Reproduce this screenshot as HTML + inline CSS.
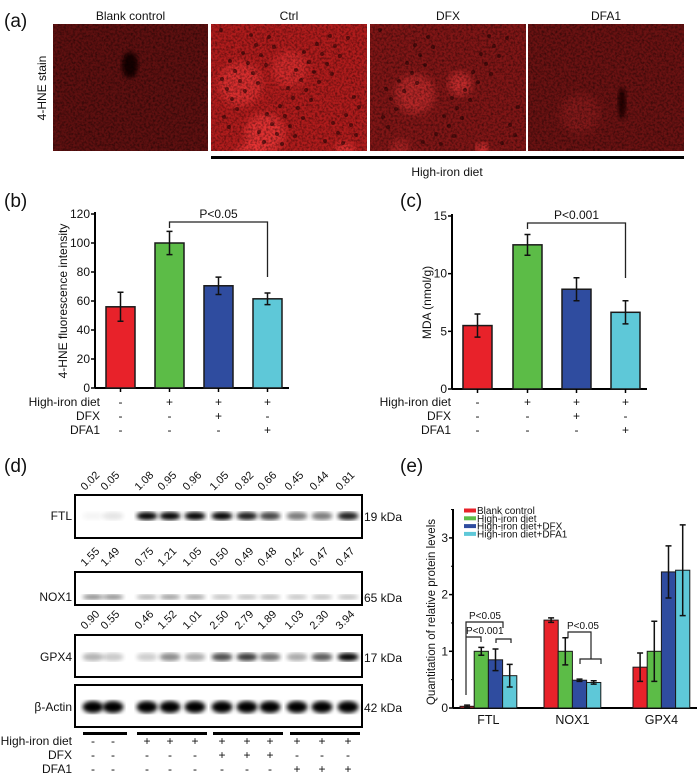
<!DOCTYPE html>
<html><head><meta charset="utf-8">
<style>
html,body{margin:0;padding:0;background:#fff;}
svg{display:block;font-family:"Liberation Sans",Arial,sans-serif;}
</style></head>
<body>
<svg id="fig" width="700" height="776" viewBox="0 0 700 776" xmlns="http://www.w3.org/2000/svg">
<defs>
<filter id="tex" x="0" y="0" width="100%" height="100%">
<feTurbulence type="fractalNoise" baseFrequency="0.45" numOctaves="2" seed="3" result="n"/>
<feColorMatrix in="n" type="matrix" values="0 0 0 0 0  0 0 0 0 0  0 0 0 0 0  0 0 0 -1.6 1.0" result="a"/>
<feComposite in="a" in2="SourceGraphic" operator="in"/>
</filter>
<filter id="blur1"><feGaussianBlur stdDeviation="2.2"/></filter>
<filter id="blur2"><feGaussianBlur stdDeviation="4"/></filter>
</defs>
<g id="panel-a"></g>
<g id="panel-b"></g>
<g id="panel-c"></g>
<g id="panel-d"></g>
<g id="panel-e"></g>
</svg>
<script>
// ---- data ----
const groups = ["Blank control","Ctrl","DFX","DFA1"];
const hneValues = [56, 100, 70.5, 61.5];
const hneErrors = [10, 8, 6, 4];
const hneTicks = [0,20,40,60,80,100,120];
const mdaValues = [5.5, 12.5, 8.65, 6.65];
const mdaErrors = [1.0, 0.9, 1.0, 1.0];
const mdaTicks = [0,5,10,15];
const treatHigh = ["-","+","+","+"];
const treatDFX = ["-","-","+","-"];
const treatDFA1 = ["-","-","-","+"];
const barColors = ["#e8222a","#5cbc47","#2f4c9f","#5ec8d8"];
const ftlNums = ["0.02","0.05","1.08","0.95","0.96","1.05","0.82","0.66","0.45","0.44","0.81"];
const nox1Nums = ["1.55","1.49","0.75","1.21","1.05","0.50","0.49","0.48","0.42","0.47","0.47"];
const gpx4Nums = ["0.90","0.55","0.46","1.52","1.01","2.50","2.79","1.89","1.03","2.30","3.94"];
const blotHigh = ["-","-","+","+","+","+","+","+","+","+","+"];
const blotDFX = ["-","-","-","-","-","+","+","+","-","-","-"];
const blotDFA1 = ["-","-","-","-","-","-","-","-","+","+","+"];
const proteins = ["FTL","NOX1","GPX4"];
const blankVals = [0.03, 1.55, 0.72];
const highVals = [1.0, 1.0, 1.0];
const dfxVals = [0.85, 0.49, 2.4];
const dfa1Vals = [0.57, 0.45, 2.43];
const blankErr = [0.02, 0.04, 0.25];
const highErr = [0.07, 0.24, 0.53];
const dfxErr = [0.19, 0.02, 0.46];
const dfa1Err = [0.2, 0.03, 0.8];
const eTicks = [0,1,2,3];
const legendLabels = ["Blank control","High-iron diet","High-iron diet+DFX","High-iron diet+DFA1"];

const NS="http://www.w3.org/2000/svg";
function mk(parent, tag, attrs, text){
  const e=document.createElementNS(NS,tag);
  for(const k in attrs) e.setAttribute(k,attrs[k]);
  if(text!==undefined) e.textContent=text;
  parent.appendChild(e); return e;
}
function txt(parent,x,y,s,size,anchor,name){
  const t=mk(parent,"text",{x:x,y:y,"font-size":size,"text-anchor":anchor||"start",fill:"#111"},s);
  
  
  return t;
}

// ---- panel a ----
(function(){
  const g=document.getElementById("panel-a");
  txt(g,4,27,"(a)",19,"start","panel-a-letter");
  const imgs=[{x:53,w:155,base:"#5e1010",hi:[]},
              {x:211,w:156,base:"#b01c1c",hi:[[240,60,22,0.5],[265,110,20,0.6],[250,135,16,0.6],[345,128,10,0.6],[290,45,18,0.4]]},
              {x:370,w:156,base:"#801616",hi:[[415,70,20,0.4],[460,60,12,0.5],[482,125,6,0.8],[400,125,10,0.3]]},
              {x:528,w:156,base:"#6a1212",hi:[[580,90,20,0.15]]}];
  const titles=["Blank control","Ctrl","DFX","DFA1"];
  imgs.forEach((m,i)=>{
    const ig=mk(g,"g",{});
    
    
    mk(ig,"rect",{x:m.x,y:24,width:m.w,height:127,fill:m.base});
    const cl=mk(ig,"clipPath",{id:"cl"+i}); mk(cl,"rect",{x:m.x,y:24,width:m.w,height:127});
    const hg=mk(ig,"g",{"clip-path":"url(#cl"+i+")"});
    m.hi.forEach(h=>mk(hg,"circle",{cx:h[0],cy:h[1]+24,r:h[2],fill:"#ff4040",opacity:h[3],filter:"url(#blur2)"}));
    if(i===1||i===2){
      for(let k=0;k<(i===1?60:40);k++){
        const px=m.x+10+((k*37)%140), py=30+((k*53)%115);
        mk(hg,"circle",{cx:px,cy:py,r:2,fill:"#2a0505",opacity:0.6});
      }
    }
    if(i===0) mk(hg,"ellipse",{cx:130,cy:65,rx:8,ry:13,fill:"#150303",filter:"url(#blur1)"});
    if(i===3) mk(hg,"ellipse",{cx:622,cy:103,rx:4,ry:16,fill:"#200404",filter:"url(#blur1)"});
    mk(hg,"rect",{x:m.x,y:24,width:m.w,height:127,fill:"#000",filter:"url(#tex)",opacity:0.6});
    txt(g,m.x+m.w/2,20,titles[i],12,"middle","micrograph-title");
  });
  const r=txt(g,0,0,"4-HNE stain",12,"middle","y-axis-title-stain");
  r.setAttribute("transform","translate(46,88) rotate(-90)");
  mk(g,"rect",{x:211,y:156,width:473,height:3,fill:"#000"});
  txt(g,447,176,"High-iron diet",12,"middle","high-iron-diet-label");
})();

// ---- bar chart helper ----
function barChart(gid, letter, vals, errs, ticks, ymax, opt){
  const g=document.getElementById(gid);
  const y=v=>opt.y0-(v/ymax)*(opt.y0-opt.yTop);
  txt(g,opt.letterX,207,letter,19,"start","panel-letter");
  mk(g,"line",{x1:opt.ax,y1:opt.yTop-2,x2:opt.ax,y2:opt.y0,stroke:"#000","stroke-width":2});
  mk(g,"line",{x1:opt.ax,y1:opt.y0,x2:opt.axEnd,y2:opt.y0,stroke:"#000","stroke-width":2});
  ticks.forEach(t=>{
    mk(g,"line",{x1:opt.ax-4,y1:y(t),x2:opt.ax,y2:y(t),stroke:"#000","stroke-width":1.5});
    txt(g,opt.ax-5,y(t)+4,String(t),12,"end","y-tick-label");
  });
  const yt=txt(g,0,0,opt.ytitle,12,"middle","y-axis-title");
  yt.setAttribute("transform","translate("+opt.ytx+","+((opt.y0+opt.yTop)/2)+") rotate(-90)");
  const cx=[];
  vals.forEach((v,i)=>{
    const x=opt.barX[i], w=29; cx.push(x+w/2);
    const b=mk(g,"rect",{x:x,y:y(v),width:w,height:opt.y0-y(v),fill:barColors[i],stroke:"#1a1a1a","stroke-width":1.5});
    
    
    const c=x+w/2, e=errs[i];
    const eg=mk(g,"path",{d:"M"+c+","+y(v+e)+"V"+y(v-e)+"M"+(c-3)+","+y(v+e)+"H"+(c+3)+"M"+(c-3)+","+y(v-e)+"H"+(c+3),stroke:"#111","stroke-width":1.5,fill:"none"});
    
    
    mk(g,"line",{x1:c,y1:opt.y0,x2:c,y2:opt.y0+4,stroke:"#000","stroke-width":1.5});
  });
  const by=opt.bracketY;
  const br=mk(g,"path",{d:"M"+cx[1]+","+(by+6)+"V"+by+"H"+cx[3]+"V"+opt.bracketEnd,stroke:"#222","stroke-width":1.3,fill:"none"});
  
  
  txt(g,(cx[1]+cx[3])/2,by-4,opt.ptext,12,"middle","p-value-label");
  const rows=[["High-iron diet",treatHigh],["DFX",treatDFX],["DFA1",treatDFA1]];
  rows.forEach((r,ri)=>{
    const yy=406+ri*14;
    txt(g,opt.labelEnd,yy,r[0],12,"end","treatment-row-label");
    r[1].forEach((s,i)=>txt(g,cx[i],yy,s,12,"middle","treatment-sign"));
  });
}
barChart("panel-b","(b)",hneValues,hneErrors,hneTicks,120,
  {y0:388,yTop:214,ax:95,axEnd:289,barX:[106,155,204,253],ytitle:"4-HNE fluorescence intensity",ytx:67,
   bracketY:222,bracketEnd:277,ptext:"P<0.05",labelEnd:100,letterX:4});
barChart("panel-c","(c)",mdaValues,mdaErrors,mdaTicks,15,
  {y0:389,yTop:216,ax:452,axEnd:647,barX:[463,513,562,611],ytitle:"MDA (nmol/g)",ytx:431,
   bracketY:223,bracketEnd:278,ptext:"P<0.001",labelEnd:451,letterX:400});

// ---- panel d ----
(function(){
  const g=document.getElementById("panel-d");
  txt(g,4,472,"(d)",19,"start","panel-letter");
  const lanes=[93,113,147,170,195,222,247,270,297,322,348];
  const boxes=[{name:"FTL",y:495,h:43,nums:ftlNums,by:516,kda:"19 kDa",scale:1.0,ny:491},
               {name:"NOX1",y:572,h:33,nums:nox1Nums,by:597,kda:"65 kDa",scale:0.22,ny:567},
               {name:"GPX4",y:635,h:42,nums:gpx4Nums,by:657,kda:"17 kDa",scale:0.25,ny:630},
               {name:"β-Actin",y:685,h:42,nums:null,by:707,kda:"42 kDa",scale:0,ny:0}];
  boxes.forEach(b=>{
    const bg=mk(g,"g",{});
    
    
    mk(bg,"rect",{x:75,y:b.y,width:287,height:b.h,fill:"#fff",stroke:"#000","stroke-width":2});
    lanes.forEach((lx,i)=>{
      let op;
      if(b.nums){ const v=parseFloat(b.nums[i]); op=Math.min(1,v*b.scale+ (b.name==="NOX1"?0.15:0.08)); if(b.name==="FTL"&&v<0.1) op=v*2; }
      else op=1;
      const band=mk(bg,"ellipse",{cx:lx,cy:b.by,rx:10.5,ry:b.name==="β-Actin"?6:(b.name==="NOX1"?2.5:4),fill:"#000",opacity:op,filter:"url(#blur1)"});
      
      
      if(b.nums){
        const wrap=mk(g,"g",{transform:"translate("+(lx-8)+","+b.ny+") rotate(-45)"});
        const t=mk(wrap,"text",{x:0,y:0,"font-size":11,fill:"#111"},b.nums[i]);
        
        
      }
    });
    txt(g,72,b.by+4,b.name,12,"end","blot-row-label");
    txt(g,364,b.by+5,b.kda,12,"start","molecular-weight-label");
  });
  [[83,127],[137,207],[213,283],[290,360]].forEach(s=>{
    const l=mk(g,"rect",{x:s[0],y:732,width:s[1]-s[0],height:3,fill:"#000"});
    
    
  });
  [["High-iron diet",blotHigh],["DFX",blotDFX],["DFA1",blotDFA1]].forEach((r,ri)=>{
    const yy=745+ri*14;
    txt(g,72,yy,r[0],12,"end","treatment-row-label");
    r[1].forEach((s,i)=>txt(g,lanes[i],yy,s,12,"middle","treatment-sign"));
  });
})();

// ---- panel e ----
(function(){
  const g=document.getElementById("panel-e");
  txt(g,400,472,"(e)",19,"start","panel-letter");
  const ax=453, y0=708, unit=56.7;
  const y=v=>y0-v*unit;
  mk(g,"line",{x1:ax,y1:509,x2:ax,y2:y0,stroke:"#000","stroke-width":2});
  mk(g,"line",{x1:ax,y1:y0,x2:697,y2:y0,stroke:"#000","stroke-width":2});
  eTicks.forEach(t=>{
    mk(g,"line",{x1:ax-4,y1:y(t),x2:ax,y2:y(t),stroke:"#000","stroke-width":1.5});
    mk(g,"line",{x1:ax-2,y1:y(t+0.5),x2:ax,y2:y(t+0.5),stroke:"#000","stroke-width":1});
    txt(g,ax-5,y(t)+4,String(t),12,"end","y-tick-label");
  });
  const yt=txt(g,0,0,"Quantitation of relative protein levels",11.5,"middle","y-axis-title");
  yt.setAttribute("transform","translate(435,612) rotate(-90)");
  const series=[[blankVals,blankErr],[highVals,highErr],[dfxVals,dfxErr],[dfa1Vals,dfa1Err]];
  const groupX=[460,544,633];
  const bw=14.2;
  proteins.forEach((p,pi)=>{
    series.forEach((s,si)=>{
      const x=groupX[pi]+si*bw, v=s[0][pi], e=s[1][pi], c=x+bw/2;
      const b=mk(g,"rect",{x:x,y:y(v),width:bw,height:y0-y(v),fill:barColors[si],stroke:"#1a1a1a","stroke-width":1});
      
      
      const eb=mk(g,"path",{d:"M"+c+","+y(v+e)+"V"+y(v-e)+"M"+(c-3)+","+y(v+e)+"H"+(c+3)+"M"+(c-3)+","+y(v-e)+"H"+(c+3),stroke:"#111","stroke-width":1.5,fill:"none"});
      
      
    });
    txt(g,groupX[pi]+2*bw,724,p,12.5,"middle","x-category-label");
  });
  legendLabels.forEach((l,i)=>{
    const yy=511+i*7.8;
    const sw=mk(g,"rect",{x:464,y:yy-2.5,width:12,height:4,fill:barColors[i]});
    
    
    txt(g,477,yy+3,l,10,"start","legend-entry");
  });
  const pth=(d,name)=>{const e=mk(g,"path",{d:d,stroke:"#222","stroke-width":1.2,fill:"none"});};
  pth("M466,695V622H503V628M496,643V639H511V643","bracket-ftl-p005");
  pth("M466,637H481V642","bracket-ftl-p0001");
  txt(g,469,619,"P<0.05",10,"start","p-value-label");
  txt(g,466,634,"P<0.001",10,"start","p-value-label");
  pth("M568,638V632H591V659M580,664V659H601V664","bracket-nox1-p005");
  txt(g,567,629,"P<0.05",10,"start","p-value-label");
})();
</script>
</body></html>
